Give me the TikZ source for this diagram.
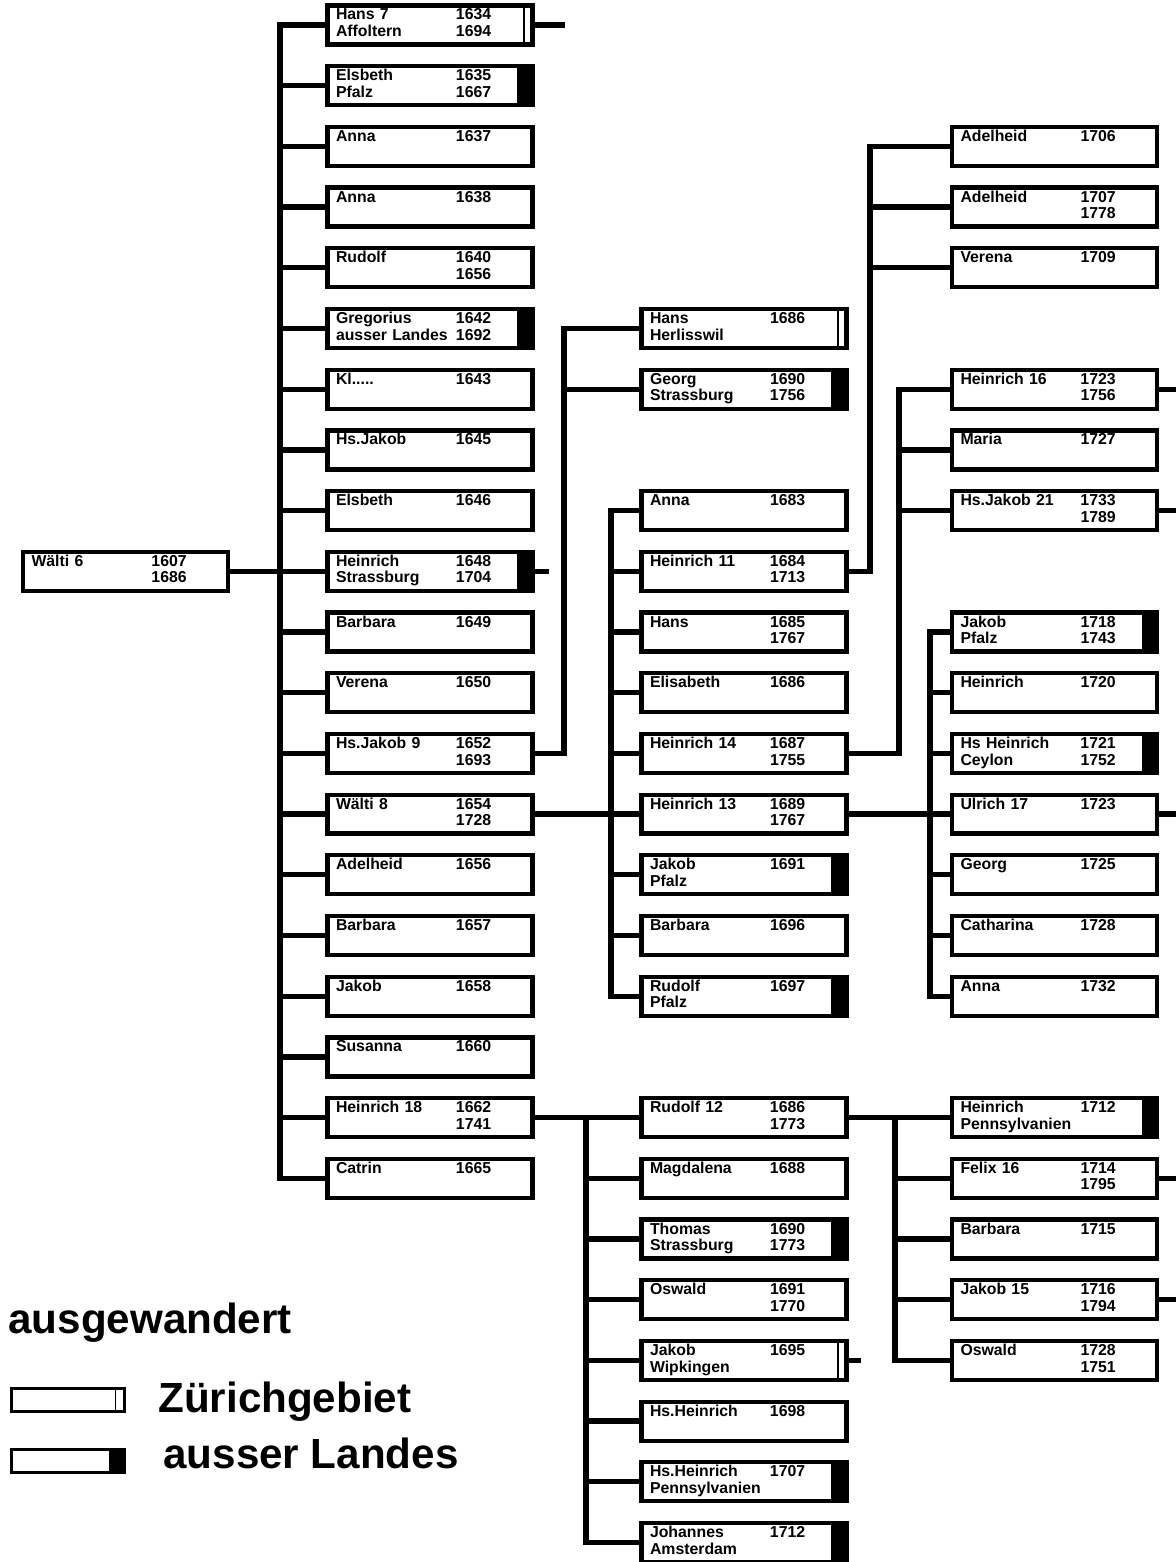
\documentclass[tikz,border=0pt]{standalone}
\usepackage{fontspec}
\setmainfont{Liberation Sans}

% name / year lines inside a box
\newcommand{\pl}[4]{\begin{tabular}{@{}p{2.4cm}@{}l@{}}#1&#2\\#3&#4\end{tabular}}
% row height of the chart
\newcommand{\ry}[1]{25+60.7*#1}

\tikzset{
  pbox/.style={draw, line width=2.4pt, rectangle, minimum width=4.1cm, minimum height=0.78cm,
    inner xsep=0.17cm, inner ysep=0pt, text width=3.76cm, align=left,
    font=\fontsize{9}{9.5}\selectfont\bfseries},
  zh/.style={path picture={\draw[line width=0.8pt]
    ([xshift=-0.17cm]path picture bounding box.north east) --
    ([xshift=-0.17cm]path picture bounding box.south east);}},
  aus/.style={path picture={\fill
    ([xshift=-0.3cm]path picture bounding box.north east) rectangle
    (path picture bounding box.south east);}},
  conn/.style={line width=3pt},
  lbox/.style={draw, line width=1.8pt, rectangle, minimum width=2.25cm, minimum height=0.46cm, inner sep=0pt},
  ltext/.style={font=\fontsize{24}{28}\selectfont\bfseries, inner sep=0pt}
}

\begin{document}
\begin{tikzpicture}[x=0.02cm, y=-0.02cm]
  \useasboundingbox (0,0) rectangle (1176,1562);

  % bus lines
  \coordinate (bus1) at (280,0);
  \coordinate (busJ) at (564,0);
  \coordinate (busH) at (586,0);
  \coordinate (busW) at (611,0);
  \coordinate (busA) at (870,0);
  \coordinate (busD) at (895,0);
  \coordinate (busB) at (899,0);
  \coordinate (busC) at (930,0);
  \coordinate (rim) at (1176,0);

  % Wälti 6
  \node[pbox] (c1r9) at (125.5,{\ry{9}}) {\pl{Wälti 6}{1607}{}{1686}};

  % his children
  \node[pbox, zh]  (c2r0)  at (430,{\ry{0}})  {\pl{Hans 7}{1634}{Affoltern}{1694}};
  \node[pbox, aus] (c2r1)  at (430,{\ry{1}})  {\pl{Elsbeth}{1635}{Pfalz}{1667}};
  \node[pbox]      (c2r2)  at (430,{\ry{2}})  {\pl{Anna}{1637}{}{}};
  \node[pbox]      (c2r3)  at (430,{\ry{3}})  {\pl{Anna}{1638}{}{}};
  \node[pbox]      (c2r4)  at (430,{\ry{4}})  {\pl{Rudolf}{1640}{}{1656}};
  \node[pbox, aus] (c2r5)  at (430,{\ry{5}})  {\pl{Gregorius}{1642}{ausser Landes}{1692}};
  \node[pbox]      (c2r6)  at (430,{\ry{6}})  {\pl{Kl.....}{1643}{}{}};
  \node[pbox]      (c2r7)  at (430,{\ry{7}})  {\pl{Hs.Jakob}{1645}{}{}};
  \node[pbox]      (c2r8)  at (430,{\ry{8}})  {\pl{Elsbeth}{1646}{}{}};
  \node[pbox, aus] (c2r9)  at (430,{\ry{9}})  {\pl{Heinrich}{1648}{Strassburg}{1704}};
  \node[pbox]      (c2r10) at (430,{\ry{10}}) {\pl{Barbara}{1649}{}{}};
  \node[pbox]      (c2r11) at (430,{\ry{11}}) {\pl{Verena}{1650}{}{}};
  \node[pbox]      (c2r12) at (430,{\ry{12}}) {\pl{Hs.Jakob 9}{1652}{}{1693}};
  \node[pbox]      (c2r13) at (430,{\ry{13}}) {\pl{Wälti 8}{1654}{}{1728}};
  \node[pbox]      (c2r14) at (430,{\ry{14}}) {\pl{Adelheid}{1656}{}{}};
  \node[pbox]      (c2r15) at (430,{\ry{15}}) {\pl{Barbara}{1657}{}{}};
  \node[pbox]      (c2r16) at (430,{\ry{16}}) {\pl{Jakob}{1658}{}{}};
  \node[pbox]      (c2r17) at (430,{\ry{17}}) {\pl{Susanna}{1660}{}{}};
  \node[pbox]      (c2r18) at (430,{\ry{18}}) {\pl{Heinrich 18}{1662}{}{1741}};
  \node[pbox]      (c2r19) at (430,{\ry{19}}) {\pl{Catrin}{1665}{}{}};

  % grandchildren
  \node[pbox, zh]  (c3r5)  at (744,{\ry{5}})  {\pl{Hans}{1686}{Herlisswil}{}};
  \node[pbox, aus] (c3r6)  at (744,{\ry{6}})  {\pl{Georg}{1690}{Strassburg}{1756}};
  \node[pbox]      (c3r8)  at (744,{\ry{8}})  {\pl{Anna}{1683}{}{}};
  \node[pbox]      (c3r9)  at (744,{\ry{9}})  {\pl{Heinrich 11}{1684}{}{1713}};
  \node[pbox]      (c3r10) at (744,{\ry{10}}) {\pl{Hans}{1685}{}{1767}};
  \node[pbox]      (c3r11) at (744,{\ry{11}}) {\pl{Elisabeth}{1686}{}{}};
  \node[pbox]      (c3r12) at (744,{\ry{12}}) {\pl{Heinrich 14}{1687}{}{1755}};
  \node[pbox]      (c3r13) at (744,{\ry{13}}) {\pl{Heinrich 13}{1689}{}{1767}};
  \node[pbox, aus] (c3r14) at (744,{\ry{14}}) {\pl{Jakob}{1691}{Pfalz}{}};
  \node[pbox]      (c3r15) at (744,{\ry{15}}) {\pl{Barbara}{1696}{}{}};
  \node[pbox, aus] (c3r16) at (744,{\ry{16}}) {\pl{Rudolf}{1697}{Pfalz}{}};
  \node[pbox]      (c3r18) at (744,{\ry{18}}) {\pl{Rudolf 12}{1686}{}{1773}};
  \node[pbox]      (c3r19) at (744,{\ry{19}}) {\pl{Magdalena}{1688}{}{}};
  \node[pbox, aus] (c3r20) at (744,{\ry{20}}) {\pl{Thomas}{1690}{Strassburg}{1773}};
  \node[pbox]      (c3r21) at (744,{\ry{21}}) {\pl{Oswald}{1691}{}{1770}};
  \node[pbox, zh]  (c3r22) at (744,{\ry{22}}) {\pl{Jakob}{1695}{Wipkingen}{}};
  \node[pbox]      (c3r23) at (744,{\ry{23}}) {\pl{Hs.Heinrich}{1698}{}{}};
  \node[pbox, aus] (c3r24) at (744,{\ry{24}}) {\pl{Hs.Heinrich}{1707}{Pennsylvanien}{}};
  \node[pbox, aus] (c3r25) at (744,{\ry{25}}) {\pl{Johannes}{1712}{Amsterdam}{}};

  % great-grandchildren
  \node[pbox]      (c4r2)  at (1054.5,{\ry{2}})  {\pl{Adelheid}{1706}{}{}};
  \node[pbox]      (c4r3)  at (1054.5,{\ry{3}})  {\pl{Adelheid}{1707}{}{1778}};
  \node[pbox]      (c4r4)  at (1054.5,{\ry{4}})  {\pl{Verena}{1709}{}{}};
  \node[pbox]      (c4r6)  at (1054.5,{\ry{6}})  {\pl{Heinrich 16}{1723}{}{1756}};
  \node[pbox]      (c4r7)  at (1054.5,{\ry{7}})  {\pl{Maria}{1727}{}{}};
  \node[pbox]      (c4r8)  at (1054.5,{\ry{8}})  {\pl{Hs.Jakob 21}{1733}{}{1789}};
  \node[pbox, aus] (c4r10) at (1054.5,{\ry{10}}) {\pl{Jakob}{1718}{Pfalz}{1743}};
  \node[pbox]      (c4r11) at (1054.5,{\ry{11}}) {\pl{Heinrich}{1720}{}{}};
  \node[pbox, aus] (c4r12) at (1054.5,{\ry{12}}) {\pl{Hs Heinrich}{1721}{Ceylon}{1752}};
  \node[pbox]      (c4r13) at (1054.5,{\ry{13}}) {\pl{Ulrich 17}{1723}{}{}};
  \node[pbox]      (c4r14) at (1054.5,{\ry{14}}) {\pl{Georg}{1725}{}{}};
  \node[pbox]      (c4r15) at (1054.5,{\ry{15}}) {\pl{Catharina}{1728}{}{}};
  \node[pbox]      (c4r16) at (1054.5,{\ry{16}}) {\pl{Anna}{1732}{}{}};
  \node[pbox, aus] (c4r18) at (1054.5,{\ry{18}}) {\pl{Heinrich}{1712}{Pennsylvanien}{}};
  \node[pbox]      (c4r19) at (1054.5,{\ry{19}}) {\pl{Felix 16}{1714}{}{1795}};
  \node[pbox]      (c4r20) at (1054.5,{\ry{20}}) {\pl{Barbara}{1715}{}{}};
  \node[pbox]      (c4r21) at (1054.5,{\ry{21}}) {\pl{Jakob 15}{1716}{}{1794}};
  \node[pbox]      (c4r22) at (1054.5,{\ry{22}}) {\pl{Oswald}{1728}{}{1751}};

  % connectors: Wälti 6
  \draw[conn] (c1r9.east) -- (c2r9.west);
  \draw[conn] (c2r0.west) -- (c2r0.west -| bus1) -- (c2r19.west -| bus1) -- (c2r19.west);
  \foreach \i in {1,...,18} \draw[conn] (c2r\i.west) -- (c2r\i.west -| bus1);

  % Hs.Jakob 9
  \draw[conn] (c2r12.east) -- (c2r12.east -| busJ) -- (c3r5.west -| busJ) -- (c3r5.west);
  \draw[conn] (c3r6.west) -- (c3r6.west -| busJ);

  % Wälti 8
  \draw[conn] (c2r13.east) -- (c3r13.west);
  \draw[conn] (c3r8.west) -- (c3r8.west -| busW) -- (c3r16.west -| busW) -- (c3r16.west);
  \foreach \i in {9,...,15} \draw[conn] (c3r\i.west) -- (c3r\i.west -| busW);

  % Heinrich 18
  \draw[conn] (c2r18.east) -- (c3r18.west);
  \draw[conn] (c3r18.west -| busH) -- (c3r25.west -| busH) -- (c3r25.west);
  \foreach \i in {19,...,24} \draw[conn] (c3r\i.west) -- (c3r\i.west -| busH);

  % Heinrich 11
  \draw[conn] (c3r9.east) -- (c3r9.east -| busA) -- (c4r2.west -| busA) -- (c4r2.west);
  \foreach \i in {3,4} \draw[conn] (c4r\i.west) -- (c4r\i.west -| busA);

  % Heinrich 14
  \draw[conn] (c3r12.east) -- (c3r12.east -| busB) -- (c4r6.west -| busB) -- (c4r6.west);
  \foreach \i in {7,8} \draw[conn] (c4r\i.west) -- (c4r\i.west -| busB);

  % Heinrich 13
  \draw[conn] (c3r13.east) -- (c4r13.west);
  \draw[conn] (c4r10.west) -- (c4r10.west -| busC) -- (c4r16.west -| busC) -- (c4r16.west);
  \foreach \i in {11,...,15} \draw[conn] (c4r\i.west) -- (c4r\i.west -| busC);

  % Rudolf 12
  \draw[conn] (c3r18.east) -- (c4r18.west);
  \draw[conn] (c4r18.west -| busD) -- (c4r22.west -| busD) -- (c4r22.west);
  \foreach \i in {19,20,21} \draw[conn] (c4r\i.west) -- (c4r\i.west -| busD);

  % lines going on
  \draw[conn] (c2r0.east) -- ++(30,0);
  \draw[conn] (c2r9.east) -- ++(14,0);
  \draw[conn] (c3r22.east) -- ++(12,0);
  \foreach \n in {c4r6,c4r8,c4r13,c4r19,c4r21} \draw[conn] (\n.east) -- (\n.east -| rim);

  % legend
  \node[ltext, anchor=base west] (lgtitle) at (8,1333) {ausgewandert};
  \node[lbox, zh]  (lgzh)  at (68,1400) {};
  \node[lbox, aus] (lgaus) at (68,1461) {};
  \node[ltext, anchor=base west] (lgzhtxt)  at (158,1412) {Zürichgebiet};
  \node[ltext, anchor=base west] (lgaustxt) at (163,1468) {ausser Landes};
\end{tikzpicture}
\end{document}
